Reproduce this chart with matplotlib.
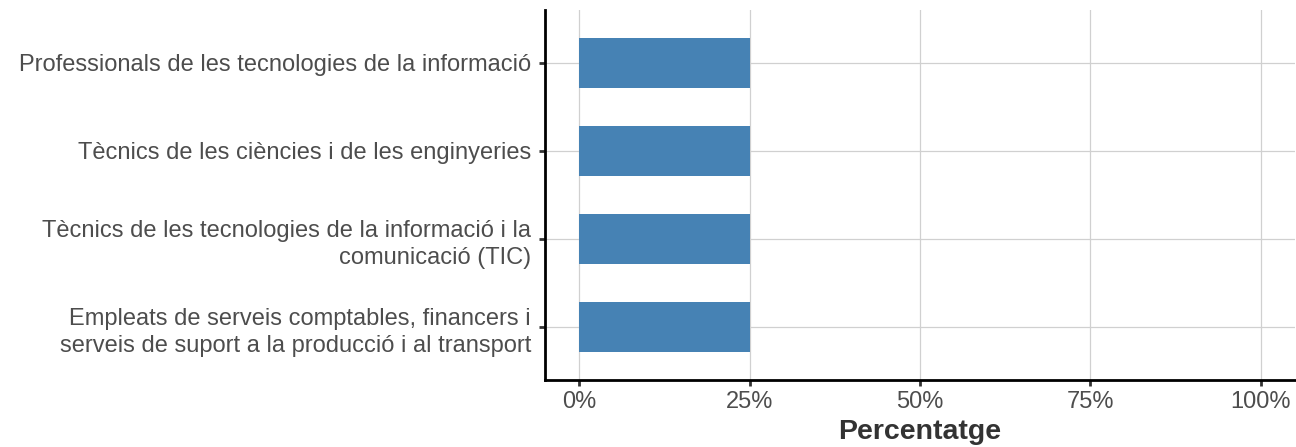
import matplotlib
matplotlib.use("Agg")
import matplotlib.pyplot as plt

categories = [
    "Professionals de les tecnologies de la informació",
    "Tècnics de les ciències i de les enginyeries",
    "Tècnics de les tecnologies de la informació i la\ncomunicació (TIC)",
    "Empleats de serveis comptables, financers i\nserveis de suport a la producció i al transport",
]
values = [25, 25, 25, 25]
xticks = [0, 25, 50, 75, 100]
xticklabels = ["0%", "25%", "50%", "75%", "100%"]

plt.rcParams['font.family'] = ['Liberation Sans', 'DejaVu Sans']

fig = plt.figure(figsize=(12.96, 4.47), dpi=100)
ax = fig.add_axes([545/1296, 67/447, 750/1296, 370/447])

n = len(categories)
ypos = list(range(n - 1, -1, -1))
ax.barh(ypos, values, height=0.56, color="#4682B4", zorder=3)

ax.set_xlim(-5, 105)
ax.set_ylim(-0.6, n - 1 + 0.6)
ax.set_xticks(xticks)
ax.set_xticklabels(xticklabels)
ax.set_yticks(ypos)
ax.set_yticklabels(categories, linespacing=1.33)

ax.grid(True, color="#D0D0D0", linewidth=0.9, zorder=0)
ax.set_axisbelow(True)
for s in ["top", "right"]:
    ax.spines[s].set_visible(False)
for s in ["left", "bottom"]:
    ax.spines[s].set_linewidth(2)
    ax.spines[s].set_color("black")

ax.tick_params(axis="both", colors="#333333", length=4, width=2,
               labelsize=17, labelcolor="#4D4D4D")
ax.tick_params(axis="y", pad=6)
ax.tick_params(axis="x", pad=4)
for lab in ax.get_yticklabels():
    lab.set_horizontalalignment("right")

ax.set_xlabel("Percentatge", fontsize=20.5, fontweight="bold", color="#333333", labelpad=4)

fig.savefig("out.png", dpi=100)
